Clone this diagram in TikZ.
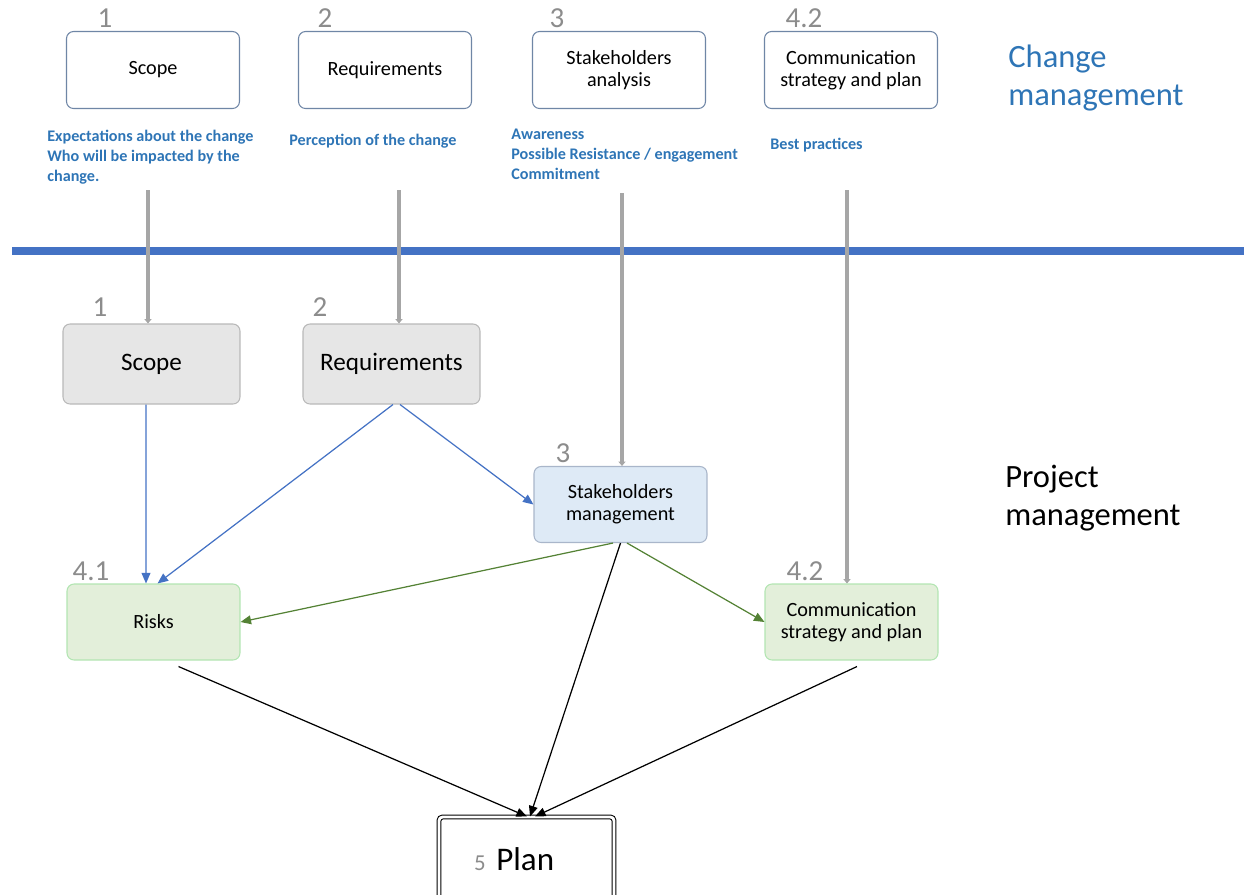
\documentclass[tikz,border=0pt]{standalone}
\usepackage{fontspec}
\setmainfont{Carlito}
\usetikzlibrary{arrows.meta, positioning}
\definecolor{cmblue}{HTML}{2E75B6}
\definecolor{divblue}{HTML}{4472C4}
\definecolor{cmedge}{HTML}{6F86A6}
\definecolor{numgray}{HTML}{8C8C8C}
\definecolor{feedgray}{HTML}{A6A6A6}
\definecolor{boxgray}{HTML}{E6E6E6}
\definecolor{boxblue}{HTML}{DEEAF6}
\definecolor{boxgreen}{HTML}{E3EFDA}
\definecolor{flowgreen}{HTML}{548235}
\tikzset{
  cmbox/.style={rectangle, draw=cmedge, fill=white, line width=0.6pt,
                rounded corners=4pt, minimum width=3.46cm, minimum height=1.54cm,
                inner sep=0pt, align=center, font=\fontsize{11.5}{12.5}\selectfont},
  pmbox/.style={rectangle, line width=0.6pt, rounded corners=4pt,
                minimum width=3.46cm, minimum height=1.52cm,
                inner sep=0pt, align=center, font=\fontsize{11.5}{12.5}\selectfont},
  pmgray/.style={pmbox, draw=gray!55, fill=boxgray, minimum width=3.54cm,
                 minimum height=1.6cm, font=\fontsize{14.3}{16}\selectfont},
  pmblue/.style={pmbox, draw=cmedge!60, fill=boxblue},
  pmgreen/.style={pmbox, draw=gray!50!green!40, fill=boxgreen},
  planbox/.style={rectangle, draw=black, double, double distance=1.6pt,
                  line width=0.6pt, rounded corners=2pt, fill=white,
                  minimum width=3.5cm, minimum height=1.76cm, inner sep=0pt,
                  font=\fontsize{18.8}{20}\selectfont},
  numlabel/.style={font=\fontsize{16.5}{18}\selectfont, text=numgray, inner sep=0pt},
  note/.style={font=\bfseries\fontsize{9.2}{11.4}\selectfont, text=cmblue,
               align=left, anchor=north west, inner sep=0pt},
  heading/.style={font=\fontsize{18.5}{21.5}\selectfont, align=left,
                  anchor=west, inner sep=0pt},
  feed/.style={-{Triangle[length=2.5pt, width=4pt]}, line width=2.2pt, color=feedgray},
  flowblue/.style={-{Triangle[length=6pt, width=5pt]}, line width=0.7pt, color=divblue},
  flowgreen/.style={-{Triangle[length=6pt, width=5pt]}, line width=0.7pt, color=flowgreen},
  flowblack/.style={-{Triangle[length=6pt, width=5pt]}, line width=0.7pt, color=black},
}
\begin{document}
\begin{tikzpicture}[x=0.02cm, y=-0.02cm]
  \useasboundingbox (0,0) rectangle (1244,894);

  % Change management row
  \node[cmbox] (tscope) at (153,70)  {Scope};
  \node[cmbox] (treq)   at (385,70)  {Requirements};
  \node[cmbox] (tstake) at (619,70)  {Stakeholders\\analysis};
  \node[cmbox] (tcomm)  at (851,70)  {Communication\\strategy and plan};
  \node[numlabel] (tn1) at (105,18) {1};
  \node[numlabel] (tn2) at (325,18) {2};
  \node[numlabel] (tn3) at (557,18) {3};
  \node[numlabel] (tn4) at (804,18) {4.2};
  \node[heading, text=cmblue] (cmtitle) at (1008,78) {Change\\management};

  \node[note] (nscope) at (47,130)
    {Expectations about the change\\Who will be impacted by the\\change.};
  \node[note] (nreq)   at (289,134) {Perception of the change};
  \node[note] (nstake) at (511,129)
    {Awareness\\Possible Resistance / engagement\\Commitment};
  \node[note] (ncomm)  at (770,138) {Best practices};

  % divider
  \coordinate (divL) at (12,251);
  \coordinate (divR) at (1244,251);
  \draw[divblue, line width=4.5pt] (divL) -- (divR);

  % Project management
  \node[pmgray]  (scope) at (151.5,364) {Scope};
  \node[pmgray]  (req)   at (391.5,364) {Requirements};
  \node[pmblue]  (stake) at (620.5,504.5) {Stakeholders\\management};
  \node[pmgreen] (risks) at (153.5,622) {Risks};
  \node[pmgreen] (comm)  at (851.5,622) {Communication\\strategy and plan};
  \node[planbox] (plan)  at (526.5,861)
    {\raisebox{2pt}{{\color{numgray}\fontsize{13}{15}\selectfont 5}\hspace{6pt}Plan}\hspace*{14pt}};
  \node[numlabel] (n1)  at (100,307) {1};
  \node[numlabel] (n2)  at (320,307) {2};
  \node[numlabel] (n3)  at (563,453) {3};
  \node[numlabel] (n41) at (91,571)  {4.1};
  \node[numlabel] (n42) at (805,571) {4.2};
  \node[heading] (pmtitle) at (1005,498) {Project\\management};

  % feeds from change management
  \coordinate (f1) at (148,190);
  \coordinate (f2) at (399,190);
  \coordinate (f3) at (622,193);
  \coordinate (f4) at (847,190);
  \draw[feed] (f1) -- (f1 |- scope.north);
  \draw[feed] (f2) -- (f2 |- req.north);
  \draw[feed] (f3) -- (f3 |- stake.north);
  \draw[feed] (f4) -- (f4 |- comm.north);

  % project flow
  \draw[flowblue] ([xshift=-0.11cm]scope.south) -- ([xshift=-0.15cm]risks.north);
  \draw[flowblue] ([xshift=0.03cm]req.south) -- ([xshift=0.08cm]risks.north);
  \draw[flowblue] ([xshift=0.17cm]req.south) -- (stake.west);
  \draw[flowgreen] ([xshift=-0.15cm]stake.south) -- (risks.east);
  \draw[flowgreen] ([xshift=0.13cm]stake.south) -- (comm.west);
  \draw[flowblack] ([xshift=0.5cm, yshift=-0.12cm]risks.south) -- ([xshift=0.01cm]plan.north);
  \draw[flowblack] (stake.south) -- ([xshift=0.07cm]plan.north);
  \draw[flowblack] ([xshift=0.11cm, yshift=-0.12cm]comm.south) -- ([xshift=0.17cm]plan.north);
\end{tikzpicture}
\end{document}
